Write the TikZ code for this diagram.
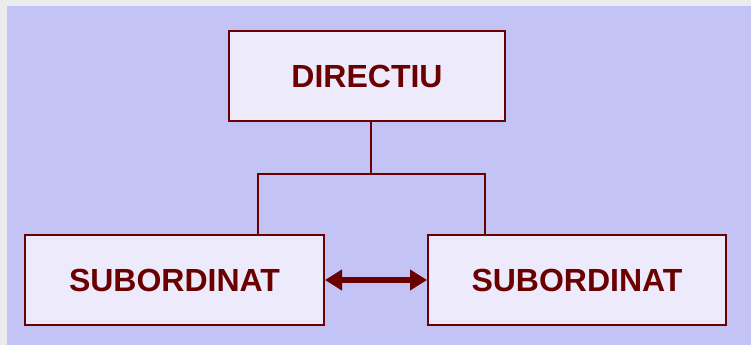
\documentclass[tikz,border=0pt]{standalone}
\usepackage{fontspec}
\setmainfont{Liberation Sans}
\usetikzlibrary{arrows.meta}
\definecolor{pagegray}{HTML}{ECECEC}
\definecolor{lavender}{HTML}{C3C3F5}
\definecolor{boxfill}{HTML}{EDEBFB}
\definecolor{maroon}{HTML}{6A0000}
\begin{document}
\begin{tikzpicture}[x=1pt,y=-1pt,
  rolebox/.style={draw=maroon, line width=2pt, fill=boxfill, inner sep=0pt,
    minimum width=#1, minimum height=90pt, text=maroon,
    font=\fontsize{32}{32}\selectfont\bfseries},
  link/.style={draw=maroon, line width=1.8pt},
  both/.style={draw=maroon, line width=6pt,
    {Triangle[length=17pt,width=20pt]}-{Triangle[length=17pt,width=20pt]}}]
  % page and slide background
  \fill[pagegray] (0,0) rectangle (751,345);
  \fill[lavender] (7,6) rectangle (751,345);
  \useasboundingbox (0,0) rectangle (751,345);
  % boxes
  \node[rolebox=276pt] (dir) at (367,76) {DIRECTIU};
  \node[rolebox=299pt] (sub1) at (174.5,280) {SUBORDINAT};
  \node[rolebox=298pt] (sub2) at (577,280) {SUBORDINAT};
  % tree connector
  \coordinate (fork) at (371,174);
  \draw[link] (dir.south -| fork) -- (fork);
  \draw[link] (sub1.north -| 258,0) |- (fork) -| (sub2.north -| 485,0);
  % two-way link between subordinates
  \draw[both] (sub1.east) -- (sub2.west);
\end{tikzpicture}
\end{document}
